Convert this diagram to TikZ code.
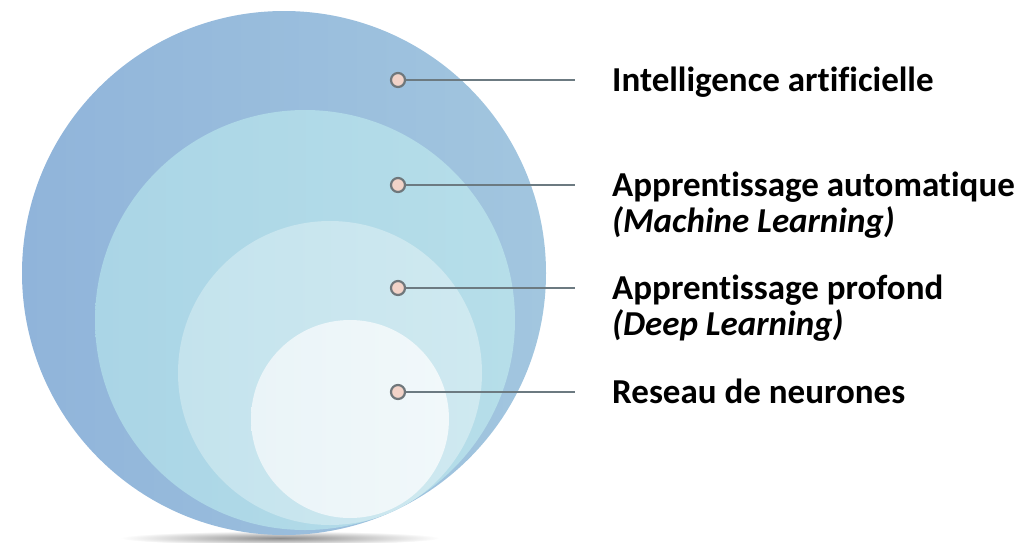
\documentclass[tikz,border=0pt]{standalone}
\usepackage{fontspec}
\setmainfont{Carlito}[Ligatures=NoCommon]
\usetikzlibrary{positioning}
\definecolor{ringa}{HTML}{A2C6DF}
\definecolor{ringadark}{HTML}{90B4DA}
\definecolor{ringb}{HTML}{B6DEE9}
\definecolor{ringbdark}{HTML}{AAD5E6}
\definecolor{ringc}{HTML}{CFE9F0}
\definecolor{ringcdark}{HTML}{C4E3ED}
\definecolor{ringd}{HTML}{F1F8FA}
\definecolor{ringddark}{HTML}{EAF4F8}
\definecolor{dotfill}{HTML}{F2D3C8}
\definecolor{dotline}{HTML}{6F777B}
\definecolor{linkgray}{HTML}{6C7A81}
\begin{document}
\begin{tikzpicture}
        [x=1pt, y=-1pt,
         dot/.style={circle, draw=dotline, fill=dotfill, line width=2.2pt, minimum size=14pt, inner sep=0pt},
         link/.style={draw=linkgray, line width=2.6pt},
         lab/.style={anchor=base west, inner sep=0pt, font=\fontsize{35}{40}\selectfont\bfseries},
         sub/.style={lab, font=\fontsize{35}{40}\selectfont\bfseries\itshape}]
        \useasboundingbox (0,0) rectangle (1029,542);
        % ombre sous les cercles
        \shade[inner color=black!45, outer color=white] (280,538) ellipse [x radius=160, y radius=7];
        % cercles emboites
        \shade[left color=ringadark, right color=ringa] (284,273) circle [radius=262];
        \shade[left color=ringbdark, right color=ringb] (305,320) circle [radius=210];
        \shade[left color=ringcdark, right color=ringc] (330,373) circle [radius=152];
        \shade[left color=ringddark, right color=ringd] (350,419) circle [radius=99];
        % points et textes
        \node[dot] (d1) at (398,80) {};
        \node[dot] (d2) at (398,185) {};
        \node[dot] (d3) at (398,288) {};
        \node[dot] (d4) at (398,392) {};
        \node[lab] (l1) at (612,91) {Intelligence artificielle};
        \node[lab] (l2) at (612,196) {Apprentissage automatique};
        \node[sub] (m2) at ([yshift=-36pt]l2.base west) {(Machine Learning)};
        \node[lab] (l3) at (612,299) {Apprentissage profond};
        \node[sub] (m3) at ([yshift=-36pt]l3.base west) {(Deep Learning)};
        \node[lab] (l4) at (612,403) {Reseau de neurones};
        \coordinate (e1) at (575,80);
        \coordinate (e2) at (575,185);
        \coordinate (e3) at (575,288);
        \coordinate (e4) at (575,392);
        \draw[link] (d1) -- (e1);
        \draw[link] (d2) -- (e2);
        \draw[link] (d3) -- (e3);
        \draw[link] (d4) -- (e4);
    \end{tikzpicture}
\end{document}
